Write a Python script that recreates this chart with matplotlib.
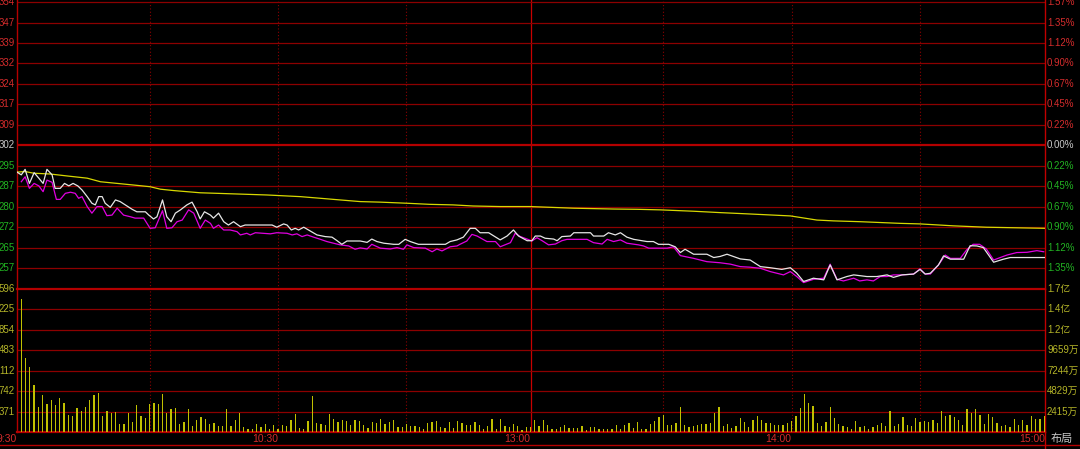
import matplotlib
matplotlib.use('Agg')
import matplotlib.pyplot as plt
import matplotlib.transforms as mtransforms
from matplotlib.lines import Line2D

# prev close and one grid step of the price panel (0.225%)
prev_close = 3302.0
price_step = 7.43
vol_step = 2414.84  # in 万

left_price_labels = ['257', '265', '272', '280', '287', '295', '302',
                     '309', '317', '324', '332', '339', '347', '354']
right_price_labels = ['1.35%', '1.12%', '0.90%', '0.67%', '0.45%', '0.22%', '0.00%',
                      '0.22%', '0.45%', '0.67%', '0.90%', '1.12%', '1.35%', '1.57%']
left_vol_labels = ['371', '742', '112', '483', '854', '225', '596']
right_vol_labels = ['2415万', '4829万', '7244万', '9659万', '1.2亿', '1.4亿', '1.7亿']

time_pos = [0, 61, 120, 181, 240.2]
time_labels = ['9:30', '10:30', '13:00', '14:00', '15:00']

# white line: index
white_t = [0, 1.0, 1.9, 2.9, 4.0, 5.1, 6.1, 7.0, 8.2, 8.9,
           10.1, 11.1, 12.1, 13.1, 14.2, 15.2, 16.4, 17.5, 18.3, 19.1,
           19.9, 20.6, 21.8, 23.0, 24.1, 25.3, 26.9, 28.0, 30.0, 30.8,
           31.9, 32.7, 34.0, 35.0, 36.0, 37.0, 38.2, 39.7, 40.9, 42.1,
           42.8, 43.8, 45.2, 45.9, 47.1, 48.3, 49.4, 50.6, 52.2, 53.3,
           59.6, 60.7, 62.3, 63.1, 64.1, 65.0, 65.8, 67.0, 68.1, 70.1,
           72.0, 73.6, 74.8, 75.9, 77.1, 80.2, 81.8, 82.9, 84.1, 85.7,
           88.0, 89.2, 90.7, 91.9, 93.8, 100.1, 101.2, 102.8, 104.3, 105.9,
           107.1, 108.2, 110.2, 112.9, 114.5, 116.0, 117.2, 119.2, 120.3, 121.1,
           122.3, 123.4, 125.4, 126.2, 127.3, 129.3, 130.1, 134.0, 134.7, 137.1,
           138.2, 139.8, 141.0, 142.5, 144.1, 147.2, 148.7, 149.9, 152.3, 153.8,
           155.0, 156.1, 158.1, 161.2, 162.8, 164.3, 165.9, 169.0, 171.3, 173.7,
           176.0, 178.7, 180.7, 182.2, 183.8, 186.1, 188.5, 190.0, 191.6, 193.9,
           195.5, 198.6, 200.9, 203.3, 204.8, 206.8, 209.5, 211.0, 212.2, 213.4,
           215.3, 216.5, 218.1, 221.2, 222.7, 224.3, 225.8, 228.2, 230.5, 232.1,
           237.5, 240.2]
white_p = [3292.3, 3291.3, 3293.3, 3288.2, 3292.1, 3290.1, 3288.2, 3293.3, 3291.3, 3286.4,
           3286.4, 3288.2, 3287.3, 3288.2, 3287.3, 3285.8, 3283.4, 3281.0, 3280.4, 3283.4,
           3283.4, 3281.0, 3279.5, 3282.2, 3281.6, 3280.4, 3278.8, 3277.9, 3277.9, 3276.7,
           3275.3, 3276.1, 3282.2, 3276.1, 3274.3, 3277.4, 3278.6, 3280.4, 3281.4, 3277.9,
           3275.3, 3277.9, 3276.7, 3275.6, 3277.4, 3274.3, 3273.1, 3274.3, 3272.5, 3273.1,
           3273.1, 3272.3, 3273.5, 3273.1, 3271.3, 3271.9, 3271.3, 3272.3, 3271.3, 3269.5,
           3268.9, 3268.7, 3267.4, 3266.1, 3267.3, 3267.3, 3266.8, 3268.0, 3267.1, 3266.5,
           3266.1, 3266.1, 3267.9, 3267.1, 3266.1, 3266.1, 3267.1, 3267.7, 3268.7, 3271.9,
           3271.9, 3270.3, 3270.3, 3267.7, 3269.1, 3271.3, 3269.1, 3267.4, 3267.4, 3269.1,
           3269.1, 3268.3, 3268.0, 3267.4, 3268.9, 3269.1, 3270.3, 3270.3, 3269.1, 3269.1,
           3270.3, 3269.5, 3270.3, 3268.7, 3267.9, 3267.1, 3267.1, 3266.1, 3266.1, 3265.2,
           3263.1, 3264.3, 3262.5, 3262.5, 3261.3, 3261.7, 3262.5, 3260.8, 3260.4, 3258.0,
           3257.6, 3257.0, 3257.6, 3255.6, 3252.6, 3253.8, 3253.2, 3258.6, 3253.2, 3254.4,
           3255.0, 3254.4, 3254.4, 3255.0, 3254.1, 3255.0, 3255.3, 3257.0, 3255.3, 3255.6,
           3258.6, 3261.9, 3260.7, 3260.7, 3265.6, 3265.5, 3264.9, 3259.6, 3260.7, 3261.3,
           3261.3, 3261.3]

# magenta line
mag_t = [1.0, 1.9, 2.9, 4.0, 5.1, 6.1, 7.0, 8.2, 9.2, 10.1,
         11.3, 12.5, 13.6, 14.4, 15.2, 16.4, 17.5, 18.7, 19.9, 21.0,
         22.2, 23.4, 24.9, 26.5, 27.6, 29.6, 31.1, 32.3, 34.0, 35.0,
         36.2, 37.4, 38.6, 40.1, 41.3, 42.8, 44.0, 45.2, 45.9, 47.1,
         48.3, 49.8, 51.4, 52.2, 53.7, 54.5, 55.7, 57.6, 59.2, 60.7,
         63.1, 64.3, 65.4, 66.6, 67.8, 69.3, 70.9, 72.4, 74.0, 75.5,
         77.5, 79.0, 80.2, 81.8, 82.9, 84.9, 87.2, 88.8, 90.3, 91.1,
         92.7, 95.4, 97.0, 98.1, 99.3, 101.2, 102.8, 103.5, 105.1, 106.3,
         107.5, 109.8, 111.8, 112.9, 115.3, 116.4, 117.6, 119.2, 120.3, 121.5,
         122.7, 124.2, 125.8, 127.3, 128.5, 133.2, 134.7, 136.7, 137.9, 139.4,
         141.0, 142.5, 145.2, 146.4, 147.6, 148.7, 151.9, 153.4, 155.0, 158.1,
         161.2, 164.3, 166.7, 169.0, 171.3, 173.7, 176.0, 179.1, 180.7, 182.2,
         183.8, 186.1, 188.5, 190.0, 191.6, 193.1, 195.5, 196.9, 198.6, 200.1,
         201.7, 203.3, 204.8, 206.8, 209.5, 211.0, 212.2, 213.4, 215.3, 216.9,
         218.1, 220.4, 221.9, 223.4, 224.9, 226.5, 228.2, 231.3, 233.6, 236.0,
         238.3, 239.9]
mag_p = [3288.8, 3290.6, 3286.4, 3288.2, 3287.3, 3285.2, 3289.4, 3288.6, 3282.4, 3282.4,
         3284.6, 3285.0, 3284.6, 3282.8, 3283.4, 3279.8, 3277.4, 3279.8, 3279.8, 3276.5,
         3276.7, 3279.2, 3276.7, 3276.1, 3275.6, 3275.6, 3271.9, 3272.1, 3278.3, 3271.9,
         3272.1, 3274.3, 3274.9, 3278.6, 3277.4, 3271.9, 3274.9, 3273.7, 3271.9, 3273.1,
         3271.3, 3271.3, 3270.7, 3269.5, 3270.1, 3269.5, 3270.3, 3270.1, 3269.9, 3270.3,
         3270.1, 3269.5, 3269.9, 3268.9, 3269.5, 3268.7, 3267.9, 3267.1, 3266.5, 3265.9,
         3265.5, 3264.3, 3264.8, 3264.4, 3266.1, 3264.7, 3264.4, 3264.9, 3264.3, 3265.9,
         3264.9, 3264.7, 3263.4, 3264.4, 3263.7, 3265.2, 3265.5, 3266.1, 3267.3, 3269.7,
         3269.1, 3267.1, 3267.1, 3265.2, 3266.7, 3270.1, 3268.9, 3268.0, 3267.3, 3268.5,
         3267.4, 3265.9, 3266.2, 3267.4, 3267.9, 3267.9, 3266.7, 3266.2, 3267.9, 3267.1,
         3267.7, 3266.5, 3265.9, 3265.5, 3264.7, 3264.7, 3264.7, 3265.2, 3262.0, 3261.0,
         3259.8, 3259.4, 3258.9, 3258.0, 3257.8, 3257.4, 3256.2, 3255.0, 3256.2, 3254.4,
         3252.2, 3253.4, 3253.8, 3258.9, 3253.4, 3252.8, 3253.8, 3252.8, 3253.2, 3252.8,
         3254.4, 3254.4, 3255.0, 3255.0, 3255.3, 3257.2, 3255.3, 3255.3, 3258.6, 3262.2,
         3261.0, 3261.0, 3264.1, 3266.1, 3266.1, 3264.4, 3260.4, 3262.2, 3263.1, 3263.2,
         3263.8, 3263.4]

# yellow average line
avg_t = [0, 1.9, 3.9, 7.8, 11.7, 16.4, 19.5, 23.4, 27.3, 31.1,
         33.5, 36.6, 42.8, 50.6, 58.4, 66.2, 70.9, 75.5, 80.2, 84.9,
         91.1, 96.5, 101.9, 106.6, 112.9, 119.9, 130.1, 139.4, 144.9, 150.3,
         158.1, 164.3, 171.3, 180.7, 186.9, 190.8, 197.1, 206.4, 211.0, 218.8,
         226.5, 240.2]
avg_p = [3292.3, 3292.5, 3291.9, 3291.6, 3290.9, 3290.1, 3288.8, 3288.2, 3287.6, 3287.0,
         3286.1, 3285.6, 3284.8, 3284.4, 3284.0, 3283.4, 3282.8, 3282.2, 3281.6, 3281.4,
         3281.0, 3280.6, 3280.4, 3280.0, 3279.8, 3279.8, 3279.2, 3278.9, 3278.8, 3278.6,
         3278.1, 3277.6, 3277.1, 3276.4, 3274.9, 3274.6, 3274.3, 3273.7, 3273.5, 3272.8,
         3272.3, 3271.9]

# per-minute volume, 万
volume = [15630, 8760, 7700, 5565, 2920, 4380, 3280, 3790, 3240, 3990,
          3430, 2010, 1930, 2800, 2490, 2960, 3790, 4420, 4620, 1930,
          2530, 2210, 2370, 950, 950, 2210, 1150, 3160, 1860, 1660,
          3280, 3430, 3320, 4500, 2290, 2720, 2840, 950, 1150, 2680,
          750, 1380, 1820, 1540, 990, 1030, 750, 710, 2680, 710,
          1380, 2210, 550, 400, 400, 910, 550, 910, 400, 830,
          400, 830, 710, 1380, 2090, 470, 400, 1300, 4220, 1110,
          910, 790, 2090, 1540, 1180, 1380, 1260, 830, 1380, 1300,
          830, 510, 1150, 1110, 1500, 950, 1150, 1420, 590, 550,
          910, 670, 670, 590, 320, 1070, 1220, 1300, 630, 430,
          1150, 470, 1300, 1070, 870, 870, 1220, 870, 360, 710,
          1540, 400, 1500, 710, 630, 910, 750, 280, 550, 590,
          1380, 710, 1420, 830, 400, 320, 630, 790, 510, 510,
          510, 710, 280, 590, 590, 360, 360, 400, 360, 830,
          360, 790, 1070, 510, 1150, 400, 400, 950, 1300, 1780,
          1975, 830, 790, 1070, 3000, 790, 590, 710, 790, 950,
          950, 1030, 2290, 2960, 750, 910, 470, 750, 1620, 1180,
          590, 1380, 1900, 1380, 1070, 1030, 830, 830, 830, 1030,
          1340, 1900, 2800, 4500, 3430, 3080, 1110, 710, 1150, 2960,
          1660, 950, 750, 590, 400, 1300, 590, 750, 400, 590,
          830, 1030, 710, 2490, 710, 950, 1780, 790, 710, 1620,
          1150, 1300, 1220, 1460, 1070, 2530, 1900, 2010, 1740, 1380,
          830, 2680, 2250, 2720, 2050, 950, 2130, 1740, 1070, 750,
          790, 590, 1500, 790, 1380, 830, 1900, 1500, 1500, 1900]
minutes = list(range(1, len(volume) + 1))

RED = '#d42c2c'
GRAY = '#c8c8c8'
GREEN = '#22b422'
OLIVE = '#b4b428'
GRID = '#8c0000'
GRID_HI = '#b40000'
FONT = ['Liberation Sans', 'Noto Sans CJK SC', 'DejaVu Sans']

fig = plt.figure(figsize=(10.8, 4.49), dpi=100, facecolor='black')
W, H = 1080.0, 449.0
x0, x1 = 17.0, 1045.0
ax_p = fig.add_axes([x0 / W, (H - 288.7) / H, (x1 - x0) / W, 288.7 / H])
ax_v = fig.add_axes([x0 / W, (H - 432.0) / H, (x1 - x0) / W, (432.0 - 288.7) / H])

for ax in (ax_p, ax_v):
    ax.set_facecolor('black')
    ax.set_xlim(0, 240.2)
    ax.set_xticks([])
    ax.set_yticks([])
    for s in ('top', 'bottom'):
        ax.spines[s].set_visible(False)
    ax.spines['left'].set_color(GRID_HI)
    ax.spines['right'].set_color('#c00000')
    ax.spines['left'].set_linewidth(1.0)
    ax.spines['right'].set_linewidth(1.0)
    for m in [31, 61, 91, 151, 181, 211]:
        ax.axvline(m, color=GRID, lw=0.8, ls=(0, (1, 2)), zorder=1)
    ax.axvline(120, color='#c80000', lw=0.9, zorder=1)

ax_p.set_ylim(prev_close - 7 * price_step, prev_close + 7.1 * price_step)
ax_v.set_ylim(0, 7 * vol_step)

tp = mtransforms.blended_transform_factory(ax_p.transAxes, ax_p.transData)
for i, k in enumerate(range(-6, 8)):
    lvl = prev_close + k * price_step
    hi = (k == 0)
    ax_p.axhline(lvl, color=GRID_HI if hi else GRID, lw=1.6 if hi else 0.9, zorder=1)
    col = RED if k > 0 else (GRAY if k == 0 else GREEN)
    ax_p.text(-2 / 1028, lvl, left_price_labels[i], transform=tp, ha='right', va='center',
              color=col, fontsize=7, family=FONT, clip_on=False)
    ax_p.text(1 + 2 / 1028, lvl, right_price_labels[i], transform=tp, ha='left', va='center',
              color=col, fontsize=7, family=FONT, clip_on=False)

tv = mtransforms.blended_transform_factory(ax_v.transAxes, ax_v.transData)
for k in range(0, 8):
    lvl = k * vol_step
    hi = k in (0, 7)
    ax_v.axhline(lvl, color=GRID_HI if hi else GRID, lw=1.6 if hi else 0.9, zorder=1, clip_on=False)
    if k >= 1:
        ax_v.text(-2 / 1028, lvl, left_vol_labels[k - 1], transform=tv, ha='right', va='center',
                  color=OLIVE, fontsize=7, family=FONT, clip_on=False)
        ax_v.text(1 + 2 / 1028, lvl, right_vol_labels[k - 1], transform=tv, ha='left', va='center',
                  color=OLIVE, fontsize=7, family=FONT, clip_on=False)

ax_p.plot(avg_t, avg_p, color='#d8d800', lw=0.9, zorder=3)
ax_p.plot(mag_t, mag_p, color='#e000e0', lw=0.9, zorder=4)
ax_p.plot(white_t, white_p, color='#e6e6e6', lw=0.9, zorder=5)

ax_v.bar(minutes, volume, width=0.3, color='#c0c000', linewidth=0, zorder=3)

tt = mtransforms.blended_transform_factory(ax_v.transData, ax_v.transAxes)
for pos, lab in zip(time_pos, time_labels):
    ax_v.text(pos, -6.5 / 143.3, lab, transform=tt, ha='right', va='center',
              color=RED, fontsize=7.5, family=FONT, clip_on=False)

fig.text(1062 / W, (H - 438.5) / H, '布局', ha='center', va='center', color=GRAY,
         fontsize=8, family=FONT)

fig.add_artist(Line2D([0, 1], [(H - 445) / H] * 2, color=GRID_HI, lw=1.0, transform=fig.transFigure))
fig.add_artist(Line2D([x1 / W] * 2, [0, (H - 432) / H], color='#c00000', lw=1.0, transform=fig.transFigure))

fig.savefig('out.png', dpi=100, facecolor='black')
